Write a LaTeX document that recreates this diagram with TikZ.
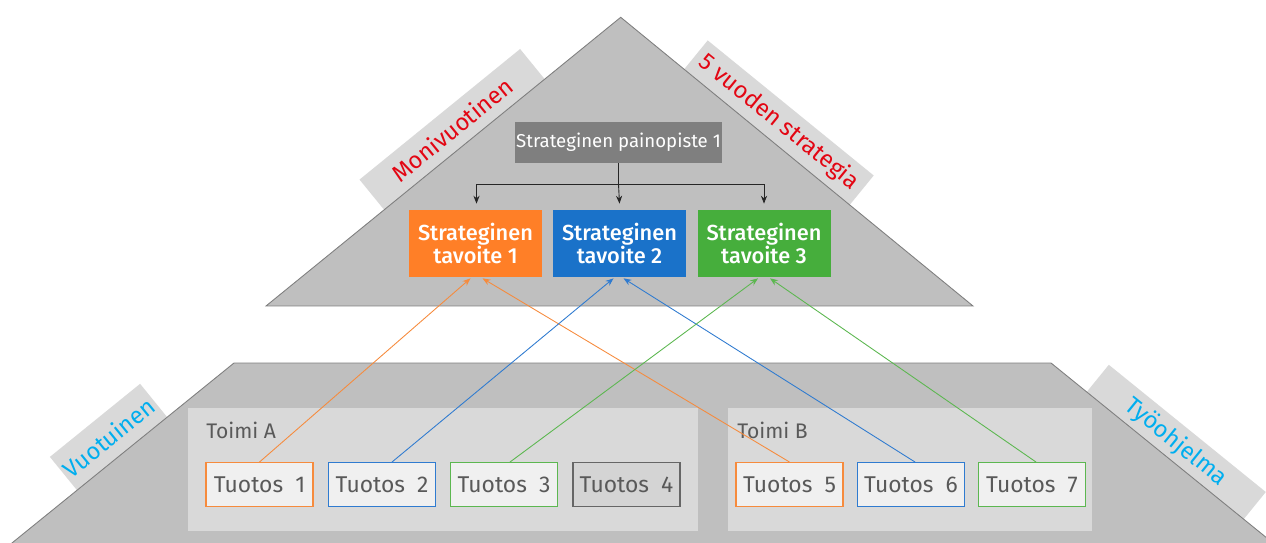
\documentclass[tikz,border=0pt]{standalone}
\usepackage{fontspec}
\setmainfont{Fira Sans}
\newfontfamily\medfont{Fira Sans}[UprightFont=* Medium]
\usetikzlibrary{arrows.meta, calc}

\definecolor{pyramid}{HTML}{BFBFBF}
\definecolor{band}{HTML}{D9D9D9}
\definecolor{edge}{HTML}{7F7F7F}
\definecolor{focusgray}{HTML}{7F7F7F}
\definecolor{goalA}{HTML}{FF7F27}
\definecolor{goalB}{HTML}{1A72C9}
\definecolor{goalC}{HTML}{46AE3C}
\definecolor{lineA}{HTML}{F68B3D}
\definecolor{lineB}{HTML}{2F7BD0}
\definecolor{lineC}{HTML}{5CB750}
\definecolor{txt}{HTML}{595959}
\definecolor{redtxt}{HTML}{E30613}
\definecolor{cyantxt}{HTML}{00AEEF}

\begin{document}
\begin{tikzpicture}[x=0.02cm, y=-0.02cm,
  bandlabel/.style={font=\fontsize{13.5}{15}\selectfont, inner sep=0pt},
  goal/.style={minimum width=2.66cm, minimum height=1.34cm, inner sep=0pt,
    text=white, align=center, font=\medfont\fontsize{12.4}{13.6}\selectfont},
  output/.style={draw, line width=0.6pt, fill=white!94!black, inner sep=0pt,
    minimum width=2.14cm, minimum height=0.87cm, text=txt,
    font=\fontsize{13}{15}\selectfont},
  group/.style={fill=band, minimum height=2.46cm, inner sep=0pt},
  link/.style={line width=0.5pt, -{Stealth[length=4.5pt, width=3.5pt]}}]
\useasboundingbox (0, 0) rectangle (1266, 543);
\clip (0, 0) rectangle (1266, 543);

% label bands
\fill[band] (520.1, 49.0) -- (359.5, 179.6) -- (387.3, 213.7) -- (547.9, 83.1) -- cycle;
\fill[band] (707.7, 40.4) -- (873.7, 175.5) -- (847.1, 208.1) -- (681.1, 73.0) -- cycle;
\fill[band] (140.1, 383.8) -- (49.9, 456.9) -- (80.2, 494.2) -- (170.4, 421.1) -- cycle;
\fill[band] (1108.8, 364.8) -- (1265.8, 492.0) -- (1240.5, 523.1) -- (1083.5, 395.9) -- cycle;

% pyramid
\filldraw[fill=pyramid, draw=edge, line width=0.5pt]
  (620.7, 17.3) -- (973, 306) -- (266, 306) -- cycle;
\filldraw[fill=pyramid, draw=edge, line width=0.5pt]
  (234, 363) -- (1051, 363) -- (1294, 560) -- (-9, 560) -- cycle;

\node[bandlabel, text=redtxt, rotate=39.1] at (452.1, 129.4) {Monivuotinen};
\node[bandlabel, text=redtxt, rotate=-39.1] at (779.0, 122.3) {5 vuoden strategia};
\node[bandlabel, text=cyantxt, rotate=39.0] at (108.9, 437.4) {Vuotuinen};
\node[bandlabel, text=cyantxt, rotate=-39.0] at (1175.9, 442.4) {Työohjelma};

% strategy
\node[fill=focusgray, text=white, minimum width=4.14cm, minimum height=0.82cm,
  inner sep=0pt, font=\fontsize{10.6}{12}\selectfont] (focus) at (618.5, 142.5)
  {Strateginen painopiste 1};
\node[goal, fill=goalA] (goal1) at (475.5, 243.5) {Strateginen\\tavoite 1};
\node[goal, fill=goalB] (goal2) at (619.5, 243.5) {Strateginen\\tavoite 2};
\node[goal, fill=goalC] (goal3) at (764, 243.5) {Strateginen\\tavoite 3};

\coordinate (split) at ($(focus.south) + (0, 21)$);
\draw[line width=0.6pt, black!85] (focus.south) -- (split);
\draw[link, black!85] (split) -| ($(goal1.north) + (1, -6)$);
\draw[link, black!85] (split) -- ($(goal2.north) + (0, -6)$);
\draw[link, black!85] (split) -| ($(goal3.north) + (0, -6)$);

% actions
\node[group, minimum width=10.2cm] (actA) at (443, 469.5) {};
\node[group, minimum width=7.28cm] (actB) at (910, 469.5) {};
\node[anchor=west, inner sep=0pt, text=txt, font=\fontsize{12}{14}\selectfont]
  (labA) at (206, 430) {Toimi A};
\node[anchor=west, inner sep=0pt, text=txt, font=\fontsize{12}{14}\selectfont]
  (labB) at (737, 430) {Toimi B};

\node[output, draw=lineA] (out1) at (259.5, 484.3) {Tuotos~ 1};
\node[output, draw=lineB] (out2) at (382, 484.3) {Tuotos~ 2};
\node[output, draw=lineC] (out3) at (504, 484.3) {Tuotos~ 3};
\node[output, draw=black!60, fill=black!17] (out4) at (626.5, 484.3) {Tuotos~ 4};
\node[output, draw=lineA] (out5) at (789.5, 484.3) {Tuotos~ 5};
\node[output, draw=lineB] (out6) at (911, 484.3) {Tuotos~ 6};
\node[output, draw=lineC] (out7) at (1032, 484.3) {Tuotos~ 7};

% links
\draw[link, lineA] (out1.north) -- ($(goal1.south) + (-5, 1)$);
\draw[link, lineA] (out5.north) -- ($(goal1.south) + (7, 1)$);
\draw[link, lineB] ($(out2.north) + (10, 0)$) -- ($(goal2.south) + (-6, 1)$);
\draw[link, lineB] ($(out6.north) + (4, 0)$) -- ($(goal2.south) + (4, 1)$);
\draw[link, lineC] ($(out3.north) + (6, 0)$) -- ($(goal3.south) + (-6, 1)$);
\draw[link, lineC] ($(out7.north) + (4, 0)$) -- ($(goal3.south) + (6, 1)$);
\end{tikzpicture}
\end{document}
